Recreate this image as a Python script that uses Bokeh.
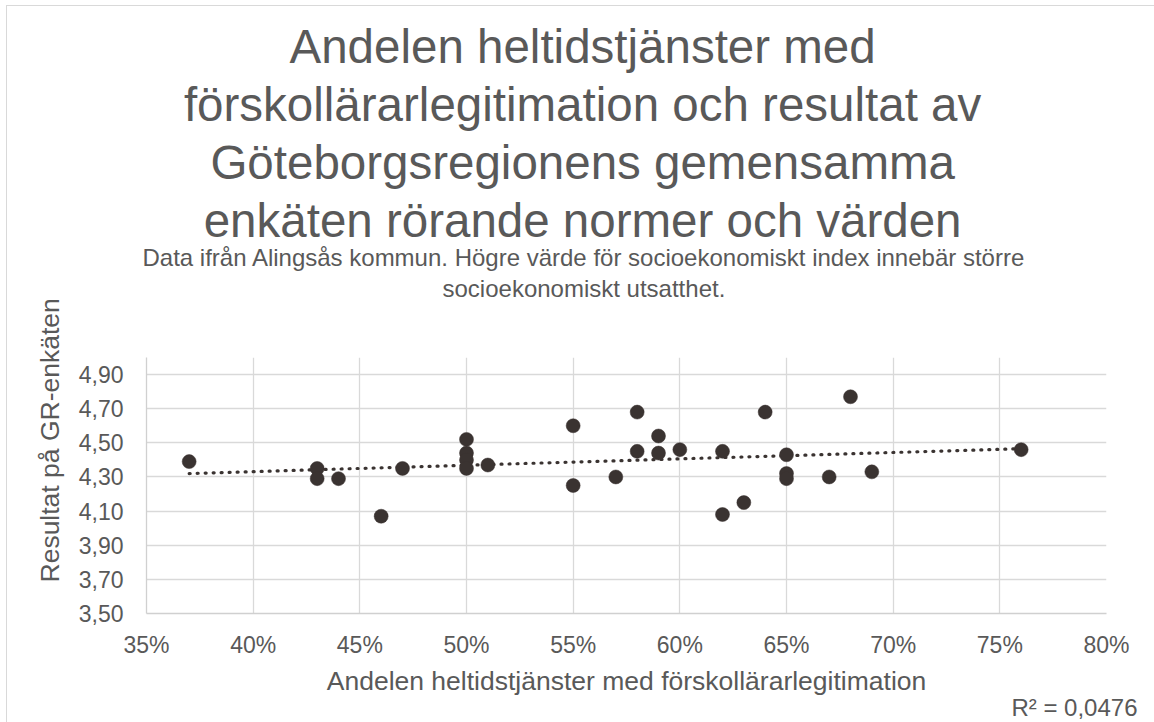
import numpy as np
from bokeh.plotting import figure
from bokeh.models import (ColumnDataSource, FixedTicker, CustomJSTickFormatter,
                          Range1d, Title)
from bokeh.embed import file_html
from bokeh.resources import INLINE

# ---- data -------------------------------------------------------------
andel_pct = [37, 43, 43, 44, 46, 47, 50, 50, 50, 50, 51, 55, 55, 57, 58, 58,
             59, 59, 60, 62, 62, 63, 64, 65, 65, 65, 67, 68, 69, 76]
resultat = [4.39, 4.35, 4.29, 4.29, 4.07, 4.35, 4.52, 4.44, 4.40, 4.35, 4.37,
            4.60, 4.25, 4.30, 4.68, 4.45, 4.54, 4.44, 4.46, 4.45, 4.08, 4.15,
            4.68, 4.43, 4.32, 4.29, 4.30, 4.77, 4.33, 4.46]
x_ticks = [35, 40, 45, 50, 55, 60, 65, 70, 75, 80]
y_ticks = [3.5, 3.7, 3.9, 4.1, 4.3, 4.5, 4.7, 4.9]

title_lines = ["Andelen heltidstjänster med",
               "förskollärarlegitimation och resultat av",
               "Göteborgsregionens gemensamma",
               "enkäten rörande normer och värden"]
subtitle_lines = ["Data ifrån Alingsås kommun. Högre värde för socioekonomiskt index innebär större",
                  "socioekonomiskt utsatthet."]
x_title = "Andelen heltidstjänster med förskollärarlegitimation"
y_title = "Resultat på GR-enkäten"
r2_text = "R² = 0,0476"

# ---- layout constants (pixels) ----------------------------------------
W, H = 1154, 722
L, R, T, B = 146, 48, 357, 109
X0, X1 = 35, 80
Y0, Y1 = 3.5, 5.0
FONT = "Liberation Sans"
GREY = "#595959"
DOT = "#3A3331"
TITLE_FS, SUB_FS = 47.5, 24
# line baselines (from top) and left offsets (from plot-area left edge)
TITLE_BASE = [71, 127, 183, 239]
TITLE_OFF = [143, 37.4, 63.9, 57.2]
SUB_BASE = [267, 296]
SUB_OFF = [-4, 296]
K_H, K_D = 1.082, 0.2   # text box height / descent as fraction of font size

p = figure(width=W, height=H, output_backend="svg", toolbar_location=None,
           x_range=Range1d(X0, X1), y_range=Range1d(Y0, Y1),
           min_border_left=L, min_border_right=R, min_border_top=T,
           min_border_bottom=B)
p.outline_line_color = None
p.background_fill_color = "white"
p.border_fill_color = None
# thin light frame around the chart (left and top edges visible)
p.styles = {"box-shadow": "inset 6px 5px 0 0 white, inset 7px 6px 0 0 #d9d9d9",
            "background-color": "white"}

# grid
for g in (p.xgrid, p.ygrid):
    g.grid_line_color = "#d9d9d9"
    g.grid_line_width = 1.3
p.xgrid.ticker = FixedTicker(ticks=x_ticks)
p.ygrid.ticker = FixedTicker(ticks=y_ticks)

# axes
p.xaxis.ticker = FixedTicker(ticks=x_ticks)
p.yaxis.ticker = FixedTicker(ticks=y_ticks)
p.xaxis.formatter = CustomJSTickFormatter(code="return tick.toFixed(0) + '%';")
p.yaxis.formatter = CustomJSTickFormatter(code="return tick.toFixed(2).replace('.', ',');")
for ax in (p.xaxis, p.yaxis):
    ax.axis_line_color = "#d0d0d0"
    ax.axis_line_width = 1.3
    ax.major_tick_line_color = None
    ax.minor_tick_line_color = None
    ax.major_tick_out = 0
    ax.major_tick_in = 0
    ax.major_label_text_font = FONT
    ax.major_label_text_font_size = "23px"
    ax.major_label_text_color = GREY
p.xaxis.major_label_standoff = 18
p.yaxis.major_label_standoff = 23

p.xaxis.axis_label = x_title
p.xaxis.axis_label_text_font = FONT
p.xaxis.axis_label_text_font_size = "26.5px"
p.xaxis.axis_label_text_font_style = "normal"
p.xaxis.axis_label_text_color = GREY
p.xaxis.axis_label_standoff = 5

# data
src = ColumnDataSource(dict(x=andel_pct, y=resultat))

# linear trendline computed from the data
slope, icpt = np.polyfit(np.array(andel_pct, float), np.array(resultat, float), 1)
tx = [min(andel_pct), max(andel_pct)]
ty = [icpt + slope * v for v in tx]
p.line(tx, ty, line_color=DOT, line_width=3.2, line_dash="1 7",
       line_cap="round")

p.scatter("x", "y", source=src, size=14, fill_color=DOT, line_color=DOT,
          line_width=0.5)


def add_title(text, size, standoff, side="above", align="left", offset=0,
              valign="bottom"):
    p.add_layout(Title(text=text, align=align, offset=offset,
                       standoff=standoff, vertical_align=valign,
                       text_font=FONT, text_font_size=f"{size}px",
                       text_font_style="normal", text_color=GREY), side)


# stacked title lines above the plot: first added sits closest to the plot
lines = [(subtitle_lines[1], SUB_FS, SUB_BASE[1], SUB_OFF[1]),
         (subtitle_lines[0], SUB_FS, SUB_BASE[0], SUB_OFF[0]),
         (title_lines[3], TITLE_FS, TITLE_BASE[3], TITLE_OFF[3]),
         (title_lines[2], TITLE_FS, TITLE_BASE[2], TITLE_OFF[2]),
         (title_lines[1], TITLE_FS, TITLE_BASE[1], TITLE_OFF[1]),
         (title_lines[0], TITLE_FS, TITLE_BASE[0], TITLE_OFF[0])]

# spacer between the plot area and the last subtitle line
first_bottom = lines[0][2] + K_D * lines[0][1]
add_title(" ", 1, (T - first_bottom) - 2 - K_H * 1)
bottom = first_bottom
for text, fs, base, off in lines:
    s = 2 * (bottom - base - K_D * fs)
    add_title(text, fs, s, offset=off)
    bottom = bottom - 2 - K_H * fs - s

# y-axis title on the left
add_title(y_title, 26.5, 21, side="left", align="left", offset=31)

# R² label under the x-axis, to the right
add_title(r2_text, 24, -10, side="below", align="right", offset=-31,
          valign="top")

open("out.html", "w").write(file_html(p, INLINE))
